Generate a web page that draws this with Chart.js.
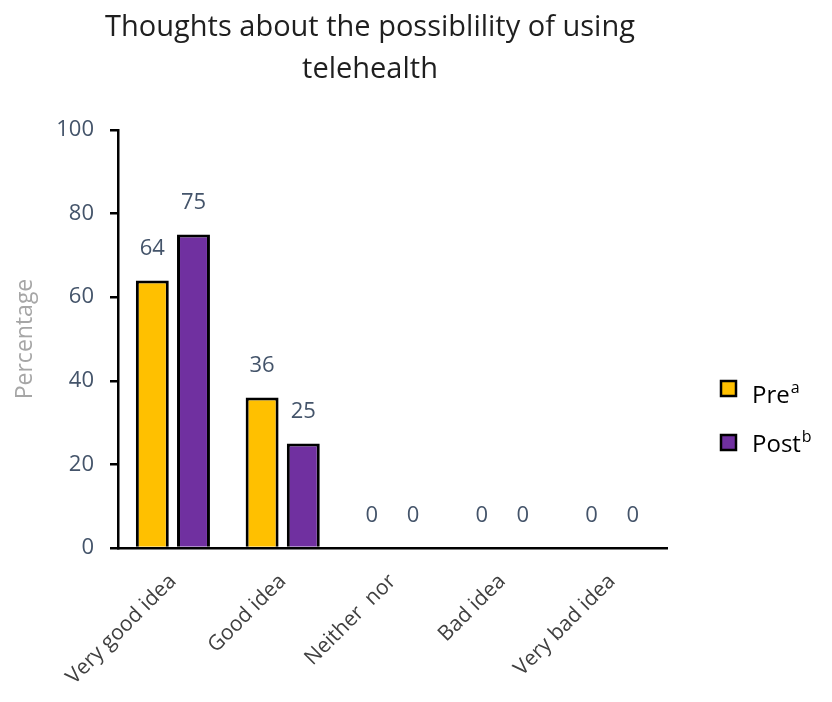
<!DOCTYPE html>
<html>
<head>
<meta charset="utf-8">
<script src="https://cdn.jsdelivr.net/npm/chart.js@4/dist/chart.umd.min.js"></script>
<style>
	html, body { margin: 0; padding: 0; background: #fff; }
	#wrap { width: 832px; height: 702px; }
</style>
</head>
<body>
<div id="wrap"><canvas id="chart" width="832" height="702"></canvas></div>
<script>
"use strict";


const titleLines = ["Thoughts about the possiblility of using", "telehealth"];
const categories = ["Very good idea", "Good idea", "Neither  nor", "Bad idea", "Very bad idea"];
const seriesNames = ["Pre", "Post"];
const seriesSup = ["a", "b"];
const preValues = [64, 36, 0, 0, 0];
const postValues = [75, 25, 0, 0, 0];
const yTicks = [0, 20, 40, 60, 80, 100];

const seriesColors = ["#ffc000", "#7030a0"];
const valueColor = "#44546a";
const textFont = "'Open Sans', 'DejaVu Sans', sans-serif";


// value labels above every bar
const valueLabels = {
	id: "valueLabels",
	afterDatasetsDraw(chart) {
		const ctx = chart.ctx;
		ctx.save();
		ctx.font = "22px " + textFont;
		ctx.fillStyle = valueColor;
		ctx.textAlign = "center";
		ctx.textBaseline = "middle";
		chart.data.datasets.forEach((set, i) => {
			const meta = chart.getDatasetMeta(i);
			meta.data.forEach((bar, j) => {
				ctx.fillText(String(set.data[j]), bar.x, bar.y - 32);
			});
		});
		ctx.restore();
	}
};


// title and legend drawn by hand, to place them like the original
const extras = {
	id: "extras",
	afterDraw(chart) {
		const ctx = chart.ctx;
		ctx.save();
		ctx.fillStyle = "#1f1f1f";
		ctx.font = "29px " + textFont;
		ctx.textAlign = "center";
		ctx.textBaseline = "alphabetic";
		titleLines.forEach((line, i) => ctx.fillText(line, 370, 36 + i * 42));

		chart.data.datasets.forEach((set, i) => {
			const top = 381 + i * 54;
			ctx.fillStyle = set.backgroundColor;
			ctx.fillRect(721, top, 15, 15);
			ctx.strokeStyle = "#000";
			ctx.lineWidth = 2.5;
			ctx.strokeRect(721, top, 15, 15);

			const base = 403 + i * 49;
			ctx.fillStyle = "#000";
			ctx.textAlign = "left";
			ctx.textBaseline = "alphabetic";
			ctx.font = "24px " + textFont;
			ctx.fillText(set.label, 752, base);
			const w = ctx.measureText(set.label).width;
			ctx.font = "16px " + textFont;
			ctx.fillText(seriesSup[i], 752 + w + 1, base - 10);
		});
		ctx.restore();
	}
};


const data = {
	labels: categories,
	datasets: [
		{ label: seriesNames[0], data: preValues },
		{ label: seriesNames[1], data: postValues },
	].map((set, i) => ({
		backgroundColor: seriesColors[i],
		borderColor: "#000",
		borderWidth: 3,
		borderSkipped: "bottom",
		categoryPercentage: 0.75,
		barPercentage: 0.8,
		...set,
	})),
};


const config = {
	type: "bar",
	data: data,
	options: {
		responsive: false,
		animation: false,
		layout: {
			padding: { left: 8, right: 165, top: 130, bottom: 0 },
		},
		plugins: {
			legend: { display: false },
			title: { display: false },
			tooltip: { enabled: false },
		},
		scales: {
			x: {
				grid: { display: false },
				border: { display: true, color: "#000", width: 2.5 },
				ticks: {
					color: "#404040",
					font: { family: textFont, size: 21 },
					minRotation: 45,
					maxRotation: 45,
					padding: 13,
				},
				afterFit(scale) { scale.height = 154; },
			},
			y: {
				min: 0,
				max: 100,
				afterBuildTicks(scale) {
					scale.ticks = yTicks.map(v => ({ value: v }));
				},
				grid: {
					drawOnChartArea: false,
					drawTicks: true,
					tickLength: 8,
					color: "#000",
					lineWidth: 2.5,
				},
				border: { display: true, color: "#000", width: 2.5 },
				ticks: {
					color: valueColor,
					font: { family: textFont, size: 22 },
					padding: 16,
				},
				title: {
					display: true,
					text: "Percentage",
					color: "#a6a6a6",
					font: { family: textFont, size: 23 },
					padding: { bottom: 4 },
				},
				afterFit(scale) { scale.width = 110; },
			},
		},
	},
	plugins: [valueLabels, extras],
};


new Chart(document.getElementById("chart").getContext("2d"), config);
</script>
</body>
</html>
